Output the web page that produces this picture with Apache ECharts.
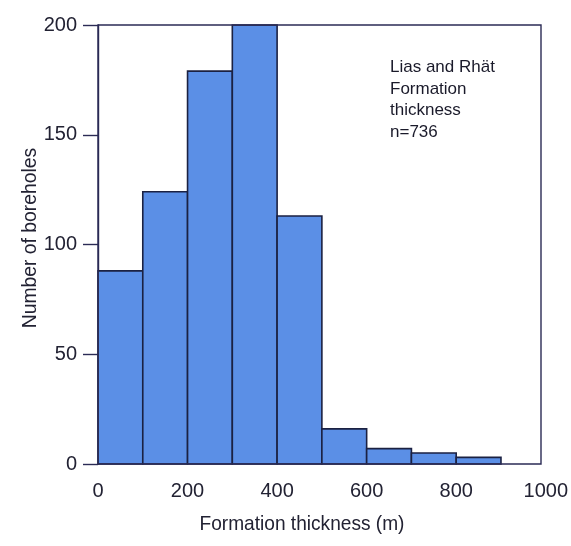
<!DOCTYPE html>
<html>
<head>
<meta charset="utf-8">
<script src="https://cdn.jsdelivr.net/npm/echarts@6/dist/echarts.min.js"></script>
<style>
  html, body { margin: 0; padding: 0; background: #ffffff; }
  #chart { width: 571px; height: 546px; }
</style>
</head>
<body>
<div id="chart"></div>
<script>
// Histogram bins (m) and borehole counts per bin
const binStarts = [0, 100, 200, 300, 400, 500, 600, 700, 800];
const binWidth = 100;
const counts = [88, 124, 179, 200, 113, 16, 7, 5, 3];

// Axis settings
const xRange = [0, 1000];
const xStep = 200;
const yRange = [0, 200];
const yStep = 50;

// Text
const xTitle = 'Formation thickness (m)';
const yTitle = 'Number of boreholes';
const noteLines = ['Lias and Rhät', 'Formation', 'thickness', 'n=736'];

const sans = "'Liberation Sans', Arial, sans-serif";
const ink = '#222233';
const frameColor = '#2b2b55';
const barFill = '#5b8fe6';
const barEdge = '#1b2142';

const chart = echarts.init(document.getElementById('chart'), null, { renderer: 'canvas' });

const histData = binStarts.map((s, i) => [s, s + binWidth, counts[i]]);

chart.setOption({
  animation: false,
  backgroundColor: '#ffffff',
  grid: [
    // data grid: x spans 0..1000
    { left: 98, top: 25, width: 450, height: 439, show: false, containLabel: false },
    // plot frame
    { left: 98, top: 25, width: 443, height: 439, show: true,
      borderColor: frameColor, borderWidth: 1.4, backgroundColor: 'transparent', z: 3 }
  ],
  xAxis: [
    {
      gridIndex: 0, type: 'value', min: xRange[0], max: xRange[1], interval: xStep,
      axisLine: { show: false }, axisTick: { show: false }, splitLine: { show: false },
      axisLabel: {
        color: ink, fontFamily: sans, fontSize: 20, margin: 17,
        formatter: function (v) { return String(v); }
      }
    },
    { gridIndex: 1, type: 'value', show: false, min: 0, max: 1 }
  ],
  yAxis: [
    {
      gridIndex: 0, type: 'value', min: yRange[0], max: yRange[1], interval: yStep,
      axisLine: { show: true, lineStyle: { color: frameColor, width: 1.4 } },
      axisTick: { show: true, inside: false, length: 15, lineStyle: { color: frameColor, width: 1.4 } },
      splitLine: { show: false },
      axisLabel: {
        color: ink, fontFamily: sans, fontSize: 20, margin: 21,
        formatter: function (v) { return String(v); }
      }
    },
    { gridIndex: 1, type: 'value', show: false, min: 0, max: 1 }
  ],
  series: [
    {
      type: 'custom',
      xAxisIndex: 0,
      yAxisIndex: 0,
      encode: { x: [0, 1], y: 2 },
      data: histData,
      z: 2,
      renderItem: function (params, api) {
        const topLeft = api.coord([api.value(0), api.value(2)]);
        const bottomRight = api.coord([api.value(1), 0]);
        return {
          type: 'rect',
          shape: {
            x: topLeft[0],
            y: topLeft[1],
            width: bottomRight[0] - topLeft[0],
            height: bottomRight[1] - topLeft[1]
          },
          style: { fill: barFill, stroke: barEdge, lineWidth: 1.6 }
        };
      }
    }
  ],
  graphic: [
    {
      type: 'text', left: 390, top: 57,
      style: {
        text: noteLines.join('\n'), fill: '#1a1a2a',
        font: '17px ' + sans, lineHeight: 21.5
      }
    },
    {
      // slightly condensed axis titles
      type: 'text', x: 302, y: 524, scaleX: 0.91,
      style: {
        text: xTitle, fill: ink, font: '21px ' + sans,
        textAlign: 'center', textVerticalAlign: 'middle'
      }
    },
    {
      type: 'text', x: 30, y: 238, rotation: Math.PI / 2, scaleX: 0.92,
      style: {
        text: yTitle, fill: ink, font: '21px ' + sans,
        textAlign: 'center', textVerticalAlign: 'middle'
      }
    }
  ]
});
</script>
</body>
</html>
